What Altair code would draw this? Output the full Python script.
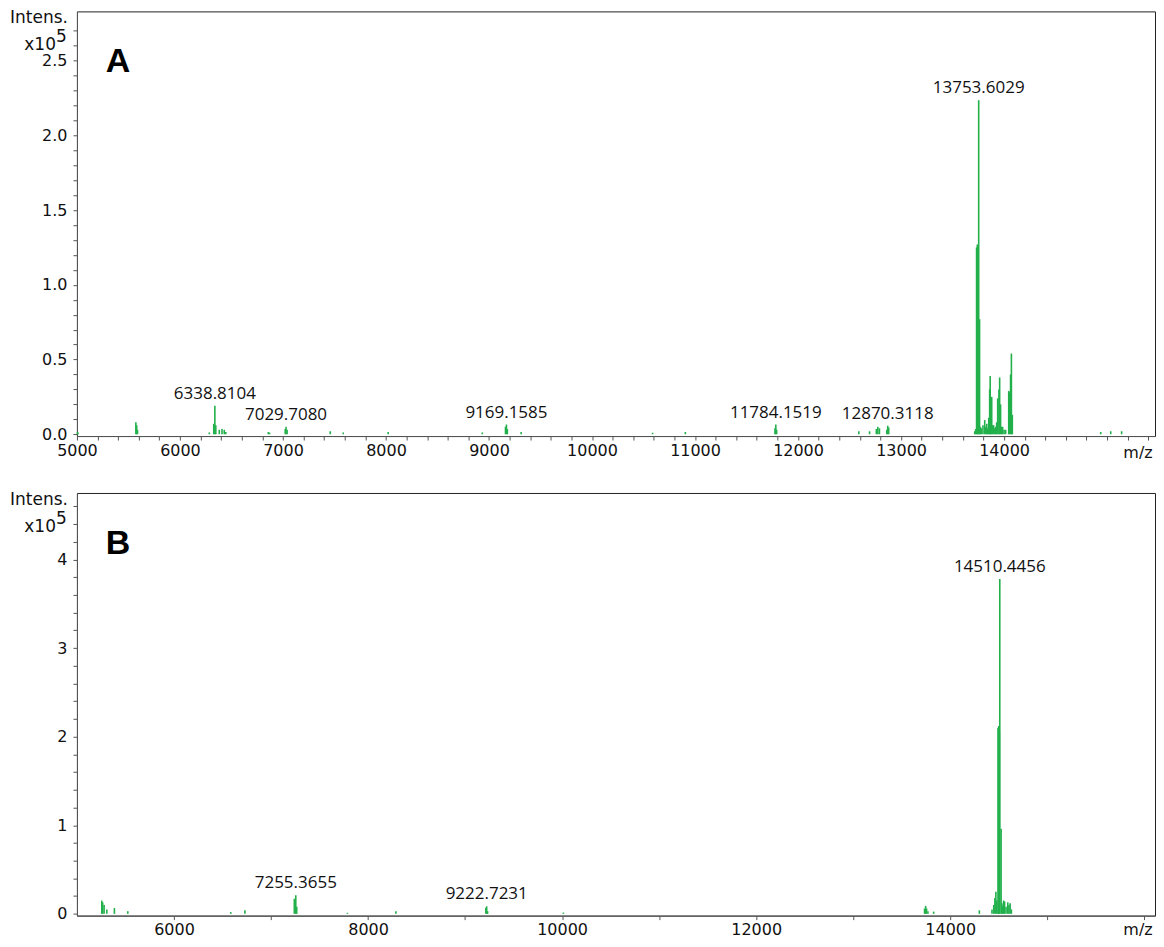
import altair as alt
import pandas as pd

GREEN = "#22B04B"
TXT = "#111111"

# ---------------- Panel A data (m/z, intensity x10^5) ----------------
mz_a = [5005, 5010, 5572, 5580, 5588, 6285, 6328, 6338.8, 6348, 6382, 6408, 6430, 6445,
        6858, 6870, 7022, 7029.7, 7040, 7459, 7585, 8021, 8935, 9160, 9169.2, 9178, 9312,
        10588, 10906, 11776, 11784.2, 11792, 12590, 12694, 12760, 12774, 12790, 12862,
        12870.3, 12880, 13715, 13724, 13733, 13740, 13746, 13753.6, 13762, 13770, 13780,
        13795, 13812, 13822, 13832, 13842, 13851, 13860, 13865, 13872, 13880, 13890,
        13899, 13910, 13920, 13928, 13938, 13950, 13957, 13966, 13976, 13986, 14000,
        14015, 14045, 14052, 14063, 14071, 14080, 14938, 15035, 15141]
int_a = [0.015, 0.01, 0.08, 0.06, 0.03, 0.012, 0.07, 0.19, 0.06, 0.03, 0.035, 0.03, 0.015,
         0.015, 0.01, 0.035, 0.05, 0.03, 0.02, 0.012, 0.015, 0.012, 0.05, 0.065, 0.035, 0.015,
         0.01, 0.015, 0.04, 0.065, 0.03, 0.02, 0.02, 0.035, 0.05, 0.04, 0.03,
         0.057, 0.045, 0.02, 0.035, 1.25, 1.27, 1.22, 2.235, 0.77, 0.05, 0.04,
         0.06, 0.095, 0.05, 0.07, 0.04, 0.11, 0.3, 0.39, 0.1, 0.25, 0.06,
         0.06, 0.04, 0.05, 0.08, 0.24, 0.3, 0.38, 0.2, 0.05, 0.05, 0.03,
         0.03, 0.29, 0.28, 0.4, 0.54, 0.13, 0.015, 0.02, 0.02]
lab_a_text = ["6338.8104", "7029.7080", "9169.1585", "11784.1519", "12870.3118", "13753.6029"]
lab_a_mz = [6338.8, 7029.7, 9169.2, 11784.2, 12870.3, 13753.6]
lab_a_int = [0.19, 0.05, 0.065, 0.065, 0.057, 2.235]

# ---------------- Panel B data ----------------
mz_b = [5256, 5265, 5280, 5308, 5386, 5524, 6585, 6731, 7240, 7255.4, 7265, 7787, 8287,
        9214, 9222.7, 9232, 10013, 13735, 13746, 13756, 13770, 13829, 14300, 14430, 14448,
        14460, 14470, 14480, 14492, 14500, 14506, 14510.4, 14524, 14532, 14541, 14550,
        14560, 14575, 14593, 14605, 14617, 14630]
int_b = [0.15, 0.13, 0.1, 0.05, 0.065, 0.03, 0.02, 0.04, 0.17, 0.21, 0.08, 0.012, 0.03,
         0.07, 0.085, 0.03, 0.015, 0.06, 0.09, 0.06, 0.03, 0.025, 0.04, 0.05, 0.1,
         0.18, 0.25, 0.15, 2.1, 2.12, 2.05, 3.78, 0.96, 0.12, 0.09, 0.15,
         0.14, 0.08, 0.13, 0.1, 0.12, 0.05]
lab_b_text = ["7255.3655", "9222.7231", "14510.4456"]
lab_b_mz = [7255.4, 9222.7, 14510.4]
lab_b_int = [0.21, 0.085, 3.78]

# ---------------- axes ----------------
xticks_a = list(range(5000, 15401, 200))
xlabels_a = [5000, 6000, 7000, 8000, 9000, 10000, 11000, 12000, 13000, 14000]
yticks_a = [round(i * 0.1, 1) for i in range(0, 28)]
ylabels_a = [0.0, 0.5, 1.0, 1.5, 2.0, 2.5]

xticks_b = list(range(6000, 16001, 1000))
xlabels_b = [6000, 8000, 10000, 12000, 14000]
yticks_b = [round(i * 0.2, 1) for i in range(0, 24)]
ylabels_b = [0, 1, 2, 3, 4]

W = 1079
H_A = 425
H_B = 423


def lab_expr(vals, fmt):
    arr = "[" + ",".join(str(v) for v in vals) + "]"
    return f"indexof({arr}, datum.value) >= 0 ? format(datum.value, '{fmt}') : ''"


def panel(mz, inten, ltext, lmz, lint, xdom, ydom, xt, xl, yt, yl, yfmt, letter, h,
          xpad, mz_dy):
    df = pd.DataFrame({"mz": mz, "intensity": inten})
    ldf = pd.DataFrame({"mz": lmz, "intensity": lint, "label": ltext})
    one = pd.DataFrame({"k": [0]})

    x = alt.X("mz:Q", title=None,
              scale=alt.Scale(domain=xdom, nice=False, zero=False),
              axis=alt.Axis(values=xt, labelExpr=lab_expr(xl, "d"), grid=False,
                            labelOverlap=False, labelFlush=False, tickSize=4,
                            labelPadding=xpad, labelFont="DejaVu Sans", labelFontSize=16,
                            labelColor=TXT, domainColor="#555555", tickColor="#555555"))
    y = alt.Y("intensity:Q", title=None,
              scale=alt.Scale(domain=ydom, nice=False, zero=False),
              axis=alt.Axis(values=yt, labelExpr=lab_expr(yl, yfmt), grid=False,
                            labelOverlap=False, labelFlush=False, tickSize=4,
                            labelPadding=6, labelFont="DejaVu Sans", labelFontSize=16,
                            labelColor=TXT, domainColor="#555555", tickColor="#555555"))

    rules = alt.Chart(df).mark_rule(color=GREEN, strokeWidth=1.6).encode(
        x=x, y=y, y2=alt.datum(0))
    labels = alt.Chart(ldf).mark_text(
        baseline="bottom", dy=-3, font="Open Sans", fontSize=17, color=TXT
    ).encode(x=x, y=y, text="label:N")

    base = alt.Chart(one)
    intens = base.mark_text(align="right", baseline="middle", font="DejaVu Sans",
                            fontSize=17, color=TXT).encode(
        x=alt.value(-9), y=alt.value(7), text=alt.value("Intens."))
    x10 = base.mark_text(align="right", baseline="alphabetic", font="DejaVu Sans",
                         fontSize=17, color=TXT).encode(
        x=alt.value(-21), y=alt.value(39), text=alt.value("x10"))
    sup = base.mark_text(align="left", baseline="alphabetic", font="DejaVu Sans",
                         fontSize=17, color=TXT).encode(
        x=alt.value(-21), y=alt.value(31), text=alt.value("5"))
    mzlab = base.mark_text(align="center", baseline="middle", font="DejaVu Sans",
                           fontSize=16, color=TXT).encode(
        x=alt.value(1062), y=alt.value(h + mz_dy), text=alt.value("m/z"))
    letter_t = base.mark_text(align="center", baseline="middle", font="Liberation Sans",
                              fontSize=34, fontWeight="bold", color="#000000").encode(
        x=alt.value(41), y=alt.value(51), text=alt.value(letter))

    return alt.layer(rules, labels, intens, x10, sup, mzlab, letter_t).properties(
        width=W, height=h)


pa = panel(mz_a, int_a, lab_a_text, lab_a_mz, lab_a_int, [5000, 15465], [-0.012, 2.83],
           xticks_a, xlabels_a, yticks_a, ylabels_a, ".1f", "A", H_A, 2, 17)
pb = panel(mz_b, int_b, lab_b_text, lab_b_mz, lab_b_int, [5000, 16110], [-0.02, 4.75],
           xticks_b, xlabels_b, yticks_b, ylabels_b, "d", "B", H_B, 2, 14)

chart = alt.vconcat(pa, pb, spacing=28).properties(
    padding={"left": 1, "top": 0, "right": 0, "bottom": 0},
    background="white"
).configure_view(
    stroke="#222222", strokeWidth=1
)

chart.save("out.html", embed_options={"renderer": "svg", "actions": False})
